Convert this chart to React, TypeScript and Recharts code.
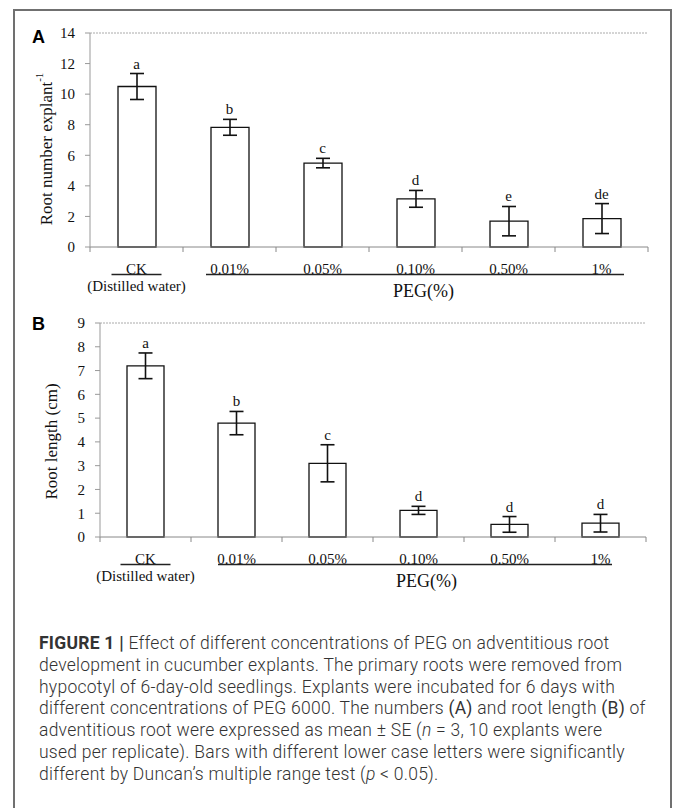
import React from "react";
import {
  ComposedChart,
  Bar,
  Line,
  XAxis,
  YAxis,
  ErrorBar,
  ReferenceLine,
} from "recharts";

const categories = ["CK", "0.01%", "0.05%", "0.10%", "0.50%", "1%"];

const rootNumber = [10.5, 7.83, 5.49, 3.15, 1.69, 1.86];
const rootNumberSE = [0.85, 0.52, 0.31, 0.55, 0.96, 0.98];
const rootNumberLetters = ["a", "b", "c", "d", "e", "de"];
const rootNumberTicks = [0, 2, 4, 6, 8, 10, 12, 14];

const rootLength = [7.2, 4.79, 3.1, 1.12, 0.53, 0.58];
const rootLengthSE = [0.54, 0.49, 0.78, 0.17, 0.33, 0.37];
const rootLengthLetters = ["a", "b", "c", "d", "d", "d"];
const rootLengthTicks = [0, 1, 2, 3, 4, 5, 6, 7, 8, 9];

const SERIF = '"Liberation Serif", "Times New Roman", serif';
const W = 673;

const CatTick = (props: any) => {
  const { x, y, index, payload, step, pegStart, pegEnd, last } = props;
  const lineY = y + 27.5;
  let seg = null;
  if (index >= 1) {
    const x1 = index === 1 ? x + pegStart : x - step / 2;
    const x2 = index === last ? x + pegEnd : x + step / 2;
    seg = <line x1={x1} x2={x2} y1={lineY} y2={lineY} stroke="#222" strokeWidth={1.6} />;
  }
  return (
    <g>
      <line x1={x - step / 2} x2={x - step / 2} y1={y} y2={y + 5} stroke="#888" />
      {index === last && (
        <line x1={x + step / 2} x2={x + step / 2} y1={y} y2={y + 5} stroke="#888" />
      )}
      <text x={x} y={y + 27} textAnchor="middle" fontSize={15} fontFamily={SERIF} fill="#111">
        {payload.value}
      </text>
      {index === 0 && (
        <>
          <line x1={x - 25} x2={x + 25} y1={lineY} y2={lineY} stroke="#222" strokeWidth={1.6} />
          <text x={x} y={y + 44} textAnchor="middle" fontSize={15} fontFamily={SERIF} fill="#111">
            (Distilled water)
          </text>
        </>
      )}
      {seg}
      {index === 3 && (
        <text x={x + 8} y={y + 50} textAnchor="middle" fontSize={18} fontFamily={SERIF} fill="#111">
          PEG(%)
        </text>
      )}
    </g>
  );
};

interface PanelProps {
  values: number[];
  se: number[];
  letters: string[];
  ticks: number[];
  yLabel: string;
  yLabelSup?: string;
  yLabelX: number;
  yLabelDy: number;
  plotLeft: number;
  plotRight: number;
  barSize: number;
  pegStart: number;
  pegEnd: number;
}

const Panel = (p: PanelProps) => {
  const data = categories.map((c, i) => ({
    name: c,
    value: p.values[i],
    se: p.se[i],
    top: p.values[i] + p.se[i],
    letter: p.letters[i],
  }));
  const ymax = p.ticks[p.ticks.length - 1];
  const step = (p.plotRight - p.plotLeft) / categories.length;
  return (
    <ComposedChart
      width={W}
      height={310}
      data={data}
      margin={{ top: 33, right: W - p.plotRight, left: 0, bottom: 10 }}
    >
      <XAxis
        dataKey="name"
        height={53}
        axisLine={{ stroke: "#888" }}
        tickLine={false}
        tickSize={0}
        tickMargin={0}
        interval={0}
        tick={
          <CatTick step={step} pegStart={p.pegStart} pegEnd={p.pegEnd} last={categories.length - 1} />
        }
      />
      <YAxis
        width={p.plotLeft}
        domain={[0, ymax]}
        ticks={p.ticks}
        interval={0}
        axisLine={{ stroke: "#999" }}
        tickLine={{ stroke: "#999" }}
        tickSize={5}
        tickMargin={10}
        tick={{ fontSize: 15, fontFamily: SERIF, fill: "#111" }}
        label={(lp: any) => {
          const vb = lp.viewBox;
          const cx = vb.x + p.yLabelX;
          const cy = vb.y + vb.height / 2 + p.yLabelDy;
          return (
            <text
              x={cx}
              y={cy}
              transform={`rotate(-90, ${cx}, ${cy})`}
              textAnchor="middle"
              dominantBaseline="central"
              fontSize={17}
              fontFamily={SERIF}
              fill="#111"
            >
              {p.yLabel}
              {p.yLabelSup && (
                <tspan fontSize={11} dy={-7}>
                  {p.yLabelSup}
                </tspan>
              )}
            </text>
          );
        }}
      />
      <YAxis
        yAxisId="right"
        orientation="right"
        width={0}
        domain={[0, ymax]}
        tick={false}
        tickLine={false}
        axisLine={{ stroke: "#aaa", strokeDasharray: "2 1" }}
      />
      <ReferenceLine y={ymax} stroke="#aaa" strokeDasharray="2 1" />
      <Bar
        dataKey="value"
        barSize={p.barSize}
        fill="#fff"
        stroke="#111"
        strokeWidth={1.3}
        isAnimationActive={false}
      >
        <ErrorBar dataKey="se" width={7} stroke="#111" strokeWidth={1.6} />
      </Bar>
      <Line
        dataKey="top"
        stroke="none"
        dot={false}
        activeDot={false}
        isAnimationActive={false}
        label={(lp: any) => (
          <text
            key={`lt-${lp.index}`}
            x={lp.x}
            y={lp.y - 5}
            textAnchor="middle"
            fontSize={15}
            fontFamily={SERIF}
            fill="#111"
          >
            {data[lp.index].letter}
          </text>
        )}
      />
    </ComposedChart>
  );
};

const capLines: React.ReactNode[] = [
  <>
    <b style={{ fontWeight: 700 }}>FIGURE 1 |</b> Effect of different concentrations of PEG on adventitious root
  </>,
  <>development in cucumber explants. The primary roots were removed from</>,
  <>hypocotyl of 6-day-old seedlings. Explants were incubated for 6 days with</>,
  <>
    different concentrations of PEG 6000. The numbers <b>(A)</b> and root length <b>(B)</b> of
  </>,
  <>
    adventitious root were expressed as mean ± SE (<i>n</i> = 3, 10 explants were
  </>,
  <>used per replicate). Bars with different lower case letters were significantly</>,
  <>
    different by Duncan’s multiple range test (<i>p</i> &lt; 0.05).
  </>,
];

export default function App() {
  return (
    <div
      style={{
        position: "absolute",
        left: 0,
        top: 0,
        width: W,
        height: 808,
        background: "#fff",
        overflow: "hidden",
      }}
    >
      <div
        style={{
          position: "absolute",
          left: 13,
          top: 9,
          width: 659,
          height: 820,
          boxSizing: "border-box",
          border: "2px solid #707070",
          borderBottom: "none",
        }}
      />
      <div style={{ position: "absolute", left: 0, top: 0 }}>
        <Panel
          values={rootNumber}
          se={rootNumberSE}
          letters={rootNumberLetters}
          ticks={rootNumberTicks}
          yLabel="Root number explant"
          yLabelSup="-1"
          yLabelX={46}
          yLabelDy={9}
          plotLeft={90}
          plotRight={648}
          barSize={38}
          pegStart={-23.5}
          pegEnd={22.5}
        />
      </div>
      <div style={{ position: "absolute", left: 0, top: 290 }}>
        <Panel
          values={rootLength}
          se={rootLengthSE}
          letters={rootLengthLetters}
          ticks={rootLengthTicks}
          yLabel="Root length (cm)"
          yLabelX={51}
          yLabelDy={11.5}
          plotLeft={100}
          plotRight={646}
          barSize={37}
          pegStart={-18.5}
          pegEnd={11.5}
        />
      </div>
      <div
        style={{
          position: "absolute",
          left: 32,
          top: 27,
          fontFamily: '"Liberation Sans", Arial, sans-serif',
          fontWeight: 700,
          fontSize: 18,
        }}
      >
        A
      </div>
      <div
        style={{
          position: "absolute",
          left: 32,
          top: 314,
          fontFamily: '"Liberation Sans", Arial, sans-serif',
          fontWeight: 700,
          fontSize: 18,
        }}
      >
        B
      </div>
      <div
        style={{
          position: "absolute",
          left: 39,
          top: 633,
          fontFamily: "Roboto, sans-serif",
          fontWeight: 300,
          fontSize: 17.5,
          letterSpacing: 0.25,
          lineHeight: "21.8px",
          color: "#333",
        }}
      >
        {capLines.map((l, i) => (
          <div key={i} style={{ whiteSpace: "nowrap" }}>
            {l}
          </div>
        ))}
      </div>
    </div>
  );
}
